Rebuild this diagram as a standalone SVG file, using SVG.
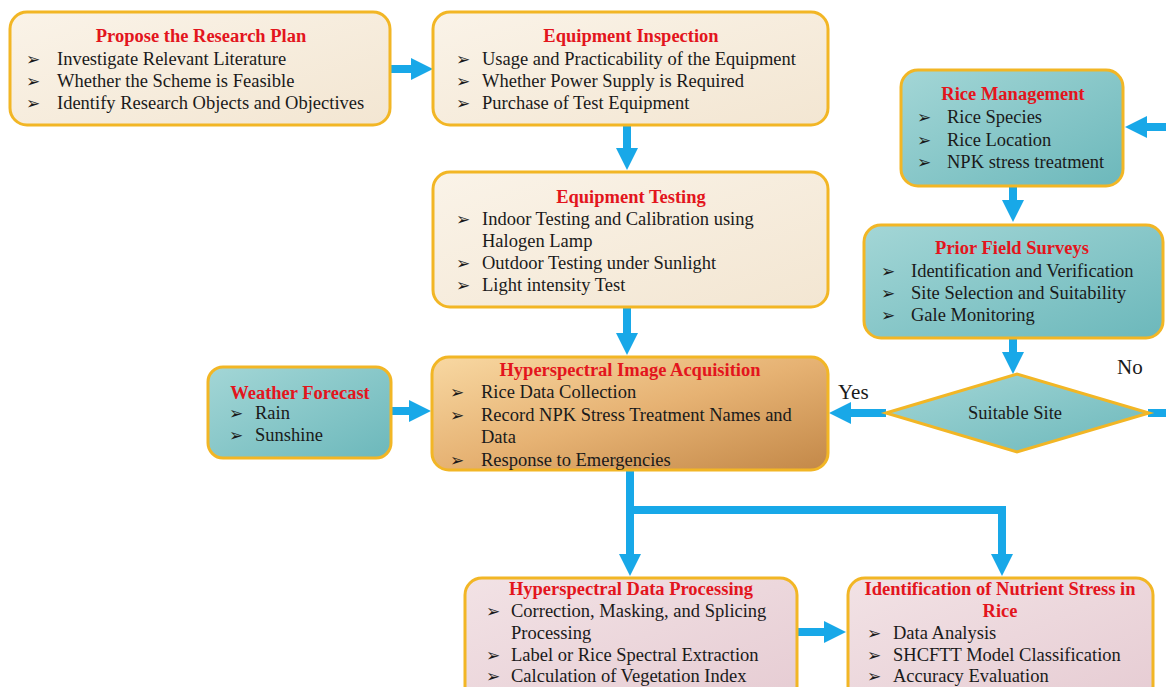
<svg xmlns="http://www.w3.org/2000/svg" width="1166" height="687" viewBox="0 0 1166 687">
  <defs>
    <linearGradient id="gBeige" x1="0" y1="0" x2="1" y2="1">
      <stop offset="0" stop-color="#faf3e8"/>
      <stop offset="1" stop-color="#f3e6d2"/>
    </linearGradient>
    <linearGradient id="gTeal" x1="0" y1="0" x2="1" y2="1">
      <stop offset="0" stop-color="#a3d6d6"/>
      <stop offset="1" stop-color="#6cb8bb"/>
    </linearGradient>
    <linearGradient id="gOrange" x1="0" y1="0" x2="1" y2="1">
      <stop offset="0" stop-color="#f8d8a2"/>
      <stop offset="0.5" stop-color="#e6b273"/>
      <stop offset="1" stop-color="#c38848"/>
    </linearGradient>
    <linearGradient id="gPink" x1="0" y1="0" x2="1" y2="1">
      <stop offset="0" stop-color="#f2e2e5"/>
      <stop offset="1" stop-color="#e6ccd3"/>
    </linearGradient>
    <marker id="head" viewBox="0 -11 22 22" refX="0" refY="0" markerWidth="22" markerHeight="22" markerUnits="userSpaceOnUse" orient="auto">
      <path d="M0,-11 L22,0 L0,11 z" fill="#18a8e8"/>
    </marker>
  </defs>
  <style>
    .box { stroke: #f2b625; stroke-width: 3; }
    .beige { fill: url(#gBeige); }
    .teal { fill: url(#gTeal); }
    .orange { fill: url(#gOrange); }
    .pink { fill: url(#gPink); }
    .title { font-family: "Liberation Serif", "Times New Roman", serif; font-weight: bold; font-size: 18.5px; fill: #e3151d; text-anchor: middle; }
    .body { font-family: "Liberation Serif", "Times New Roman", serif; font-size: 18.5px; fill: #1a1a1a; }
    .bul { font-family: "DejaVu Sans", sans-serif; font-size: 17px; fill: #1a1a1a; }
    .lbl { font-family: "Liberation Serif", "Times New Roman", serif; font-size: 21px; fill: #1a1a1a; }
    .conn { fill: none; stroke: #18a8e8; stroke-width: 8; stroke-linejoin: miter; }
  </style>

  <rect width="1166" height="687" fill="#ffffff"/>

  <!-- connectors -->
  <g id="connectors">
    <path class="conn" d="M390,69 H411" marker-end="url(#head)"/>
    <path class="conn" d="M627,125 V148" marker-end="url(#head)"/>
    <path class="conn" d="M627,307 V333" marker-end="url(#head)"/>
    <path class="conn" d="M391,411 H409" marker-end="url(#head)"/>
    <path class="conn" d="M1166,127 H1147" marker-end="url(#head)"/>
    <path class="conn" d="M1013,186 V200" marker-end="url(#head)"/>
    <path class="conn" d="M1013,338 V352" marker-end="url(#head)"/>
    <path class="conn" d="M886,413 H851" marker-end="url(#head)"/>
    <path class="conn" d="M1148,413 H1166"/>
    <path class="conn" d="M630,470 V510 H1002 V554" marker-end="url(#head)"/>
    <path class="conn" d="M630,506 V554" marker-end="url(#head)"/>
    <path class="conn" d="M797,632 H824" marker-end="url(#head)"/>
  </g>

  <!-- Propose the Research Plan -->
  <g id="plan">
    <rect class="box beige" x="10" y="12" width="380" height="113" rx="17"/>
    <text class="title" x="201" y="42">Propose the Research Plan</text>
    <text class="bul" x="26" y="65">➢</text>
    <text class="body" x="57" y="65">Investigate Relevant Literature</text>
    <text class="bul" x="26" y="87">➢</text>
    <text class="body" x="57" y="87">Whether the Scheme is Feasible</text>
    <text class="bul" x="26" y="109">➢</text>
    <text class="body" x="57" y="109">Identify Research Objects and Objectives</text>
  </g>

  <!-- Equipment Inspection -->
  <g id="inspection">
    <rect class="box beige" x="433" y="12" width="395" height="113" rx="17"/>
    <text class="title" x="631" y="42">Equipment Inspection</text>
    <text class="bul" x="456" y="65">➢</text>
    <text class="body" x="482" y="65">Usage and Practicability of the Equipment</text>
    <text class="bul" x="456" y="87">➢</text>
    <text class="body" x="482" y="87">Whether Power Supply is Required</text>
    <text class="bul" x="456" y="109">➢</text>
    <text class="body" x="482" y="109">Purchase of Test Equipment</text>
  </g>

  <!-- Equipment Testing -->
  <g id="testing">
    <rect class="box beige" x="433" y="172" width="395" height="135" rx="17"/>
    <text class="title" x="631" y="203">Equipment Testing</text>
    <text class="bul" x="456" y="225">➢</text>
    <text class="body" x="482" y="225">Indoor Testing and Calibration using</text>
    <text class="body" x="482" y="247">Halogen Lamp</text>
    <text class="bul" x="456" y="269">➢</text>
    <text class="body" x="482" y="269">Outdoor Testing under Sunlight</text>
    <text class="bul" x="456" y="291">➢</text>
    <text class="body" x="482" y="291">Light intensity Test</text>
  </g>

  <!-- Hyperspectral Image Acquisition -->
  <g id="acquisition">
    <rect class="box orange" x="432" y="357" width="396" height="113" rx="17"/>
    <text class="title" x="630" y="376">Hyperspectral Image Acquisition</text>
    <text class="bul" x="450" y="398">➢</text>
    <text class="body" x="481" y="398">Rice Data Collection</text>
    <text class="bul" x="450" y="421">➢</text>
    <text class="body" x="481" y="421">Record NPK Stress Treatment Names and</text>
    <text class="body" x="481" y="443">Data</text>
    <text class="bul" x="450" y="466">➢</text>
    <text class="body" x="481" y="466">Response to Emergencies</text>
  </g>

  <!-- Weather Forecast -->
  <g id="weather">
    <rect class="box teal" x="208" y="367" width="183" height="91" rx="15"/>
    <text class="title" x="300" y="399">Weather Forecast</text>
    <text class="bul" x="229" y="419">➢</text>
    <text class="body" x="255" y="419">Rain</text>
    <text class="bul" x="229" y="441">➢</text>
    <text class="body" x="255" y="441">Sunshine</text>
  </g>

  <!-- Rice Management -->
  <g id="rice-management">
    <rect class="box teal" x="901" y="70" width="222" height="116" rx="17"/>
    <text class="title" x="1013" y="100">Rice Management</text>
    <text class="bul" x="917" y="123">➢</text>
    <text class="body" x="947" y="123">Rice Species</text>
    <text class="bul" x="917" y="146">➢</text>
    <text class="body" x="947" y="146">Rice Location</text>
    <text class="bul" x="917" y="168">➢</text>
    <text class="body" x="947" y="168">NPK stress treatment</text>
  </g>

  <!-- Prior Field Surveys -->
  <g id="field-surveys">
    <rect class="box teal" x="864" y="225" width="299" height="113" rx="17"/>
    <text class="title" x="1012" y="254">Prior Field Surveys</text>
    <text class="bul" x="881" y="277">➢</text>
    <text class="body" x="911" y="277">Identification and Verification</text>
    <text class="bul" x="881" y="299">➢</text>
    <text class="body" x="911" y="299">Site Selection and Suitability</text>
    <text class="bul" x="881" y="321">➢</text>
    <text class="body" x="911" y="321">Gale Monitoring</text>
  </g>

  <!-- Suitable Site decision -->
  <g id="suitable-site">
    <polygon class="box teal" points="886,413 1017,374 1149,413 1017,452"/>
    <text class="body" x="1015" y="419" text-anchor="middle">Suitable Site</text>
    <text class="lbl" x="838" y="399">Yes</text>
    <text class="lbl" x="1117" y="374">No</text>
  </g>

  <!-- Hyperspectral Data Processing -->
  <g id="processing">
    <rect class="box pink" x="465" y="578" width="332" height="125" rx="17"/>
    <text class="title" x="631" y="595">Hyperspectral Data Processing</text>
    <text class="bul" x="486" y="617">➢</text>
    <text class="body" x="511" y="617">Correction, Masking, and Splicing</text>
    <text class="body" x="511" y="639">Processing</text>
    <text class="bul" x="486" y="661">➢</text>
    <text class="body" x="511" y="661">Label or Rice Spectral Extraction</text>
    <text class="bul" x="486" y="682">➢</text>
    <text class="body" x="511" y="682">Calculation of Vegetation Index</text>
  </g>

  <!-- Identification of Nutrient Stress in Rice -->
  <g id="identification">
    <rect class="box pink" x="848" y="578" width="305" height="125" rx="17"/>
    <text class="title" x="1000" y="595">Identification of Nutrient Stress in</text>
    <text class="title" x="1000" y="617">Rice</text>
    <text class="bul" x="867" y="639">➢</text>
    <text class="body" x="893" y="639">Data Analysis</text>
    <text class="bul" x="867" y="661">➢</text>
    <text class="body" x="893" y="661">SHCFTT Model Classification</text>
    <text class="bul" x="867" y="682">➢</text>
    <text class="body" x="893" y="682">Accuracy Evaluation</text>
  </g>
</svg>
